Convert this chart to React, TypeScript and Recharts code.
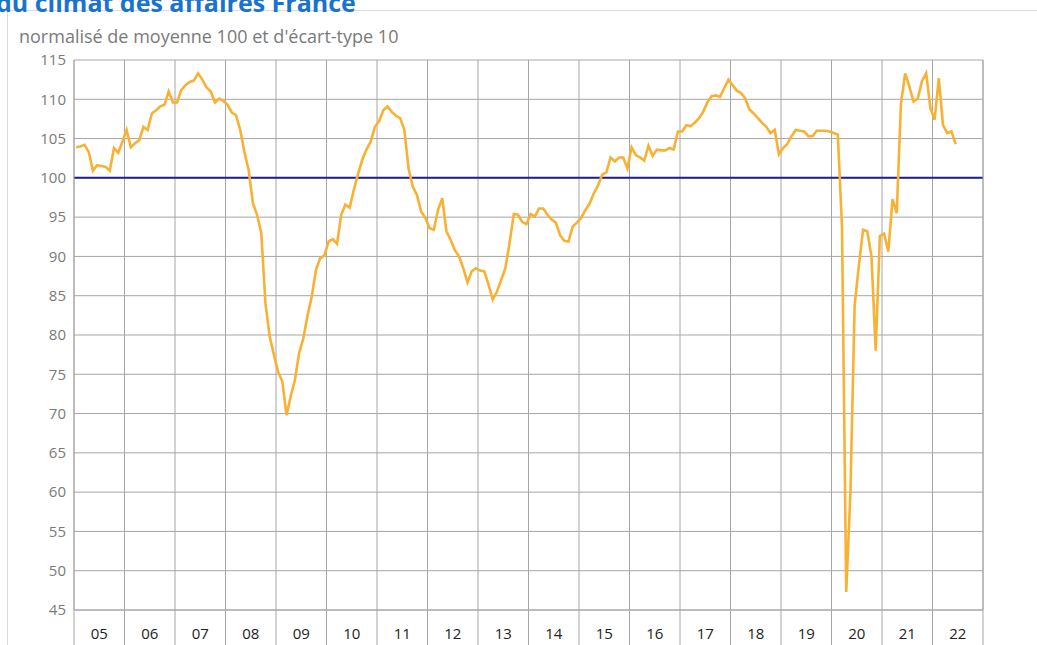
import React from 'react';
import { LineChart, Line, XAxis, YAxis, CartesianGrid, ReferenceLine } from 'recharts';

const yearLabels = ['05', '06', '07', '08', '09', '10', '11', '12', '13', '14', '15', '16', '17', '18', '19', '20', '21', '22'];

const v2005 = [103.9, 104.0, 104.2, 103.3, 100.9, 101.6, 101.5, 101.4, 100.9, 103.8, 103.2, 104.6];
const v2006 = [106.1, 103.9, 104.4, 104.8, 106.5, 106.1, 108.2, 108.6, 109.1, 109.3, 111.0, 109.6];
const v2007 = [109.6, 111.2, 111.8, 112.2, 112.4, 113.3, 112.5, 111.5, 111.0, 109.6, 110.1, 109.8];
const v2008 = [109.3, 108.3, 108.0, 106.1, 103.3, 101.0, 96.8, 95.3, 93.0, 84.0, 79.8, 77.5];
const v2009 = [75.3, 74.1, 69.8, 72.2, 74.3, 77.7, 79.6, 82.5, 84.9, 88.3, 89.8, 90.1];
const v2010 = [91.9, 92.2, 91.6, 95.3, 96.6, 96.2, 98.5, 100.5, 102.3, 103.6, 104.6, 106.5];
const v2011 = [107.2, 108.6, 109.1, 108.4, 107.9, 107.6, 106.1, 101.2, 98.9, 97.8, 95.7, 94.9];
const v2012 = [93.6, 93.4, 95.9, 97.4, 93.2, 92.1, 90.8, 90.0, 88.5, 86.7, 88.1, 88.5];
const v2013 = [88.2, 88.1, 86.4, 84.5, 85.5, 87.0, 88.5, 91.7, 95.4, 95.3, 94.4, 94.1];
const v2014 = [95.4, 95.1, 96.1, 96.1, 95.3, 94.7, 94.3, 92.7, 92.0, 91.9, 93.8, 94.3];
const v2015 = [94.9, 95.9, 96.7, 98.0, 99.0, 100.4, 100.7, 102.6, 102.1, 102.6, 102.6, 101.2];
const v2016 = [103.9, 102.9, 102.6, 102.2, 104.1, 102.8, 103.6, 103.5, 103.5, 103.8, 103.6, 105.9];
const v2017 = [105.9, 106.7, 106.6, 107.0, 107.6, 108.4, 109.6, 110.4, 110.5, 110.3, 111.4, 112.5];
const v2018 = [111.8, 111.1, 110.8, 110.1, 108.7, 108.2, 107.6, 107.0, 106.5, 105.7, 106.1, 103.0];
const v2019 = [103.8, 104.3, 105.3, 106.1, 106.0, 105.9, 105.3, 105.3, 106.0, 106.0, 106.0, 105.9];
const v2020 = [105.7, 105.5, 93.7, 47.3, 60.0, 83.8, 88.8, 93.4, 93.2, 90.0, 78.0, 92.6];
const v2021 = [92.9, 90.6, 97.3, 95.5, 109.4, 113.3, 111.6, 109.7, 110.1, 112.3, 113.3, 108.9];
const v2022 = [107.4, 112.7, 106.7, 105.7, 105.9, 104.3];

const years = [v2005, v2006, v2007, v2008, v2009, v2010, v2011, v2012, v2013, v2014, v2015, v2016, v2017, v2018, v2019, v2020, v2021, v2022];

const yTicks = [45, 50, 55, 60, 65, 70, 75, 80, 85, 90, 95, 100, 105, 110, 115];

const data = years.flatMap((vals, y) => vals.map((v, m) => ({ t: y * 12 + m + 0.5, v })));
const boundaryTicks = Array.from({ length: yearLabels.length + 1 }, (_, k) => k * 12);
const centerTicks = yearLabels.map((_, k) => k * 12 + 6);

const GRID = '#a6a6a6';
const FONT = '"Open Sans", sans-serif';

export default function App() {
  return (
    <div style={{ position: 'absolute', left: 0, top: 0, width: 1037, height: 645, overflow: 'hidden', background: '#fff', fontFamily: FONT }}>
      <div style={{ position: 'absolute', left: 7, top: 10, width: 1100, height: 700, border: '1px solid #dcdcdc', boxSizing: 'border-box' }} />
      <div style={{ position: 'absolute', left: -4, top: -10, fontSize: 25, lineHeight: '25px', fontWeight: 700, color: '#1a72d0', whiteSpace: 'nowrap' }}>
        du climat des affaires France
      </div>
      <div style={{ position: 'absolute', left: 19, top: 27, fontSize: 18, lineHeight: '18px', color: '#7a7a7a', whiteSpace: 'nowrap' }}>
        normalisé de moyenne 100 et d'écart-type 10
      </div>
      <div style={{ position: 'absolute', left: 0, top: 0 }}>
        <LineChart width={1037} height={700} data={data} margin={{ top: 60, right: 0, left: 24, bottom: 50 }}>
          <CartesianGrid xAxisId="g" yAxisId="l" stroke={GRID} strokeWidth={1} />
          <XAxis
            xAxisId="g"
            type="number"
            dataKey="t"
            domain={[0, 216]}
            ticks={boundaryTicks}
            interval={0}
            height={1}
            tickFormatter={() => ''}
            tick={{ fontSize: 1, fill: 'none' }}
            tickSize={35}
            tickLine={{ stroke: GRID }}
            axisLine={{ stroke: GRID }}
          />
          <XAxis
            xAxisId="lab"
            type="number"
            dataKey="t"
            domain={[0, 216]}
            ticks={centerTicks}
            interval={0}
            height={39}
            tickLine={false}
            axisLine={false}
            tickSize={0}
            tickMargin={17}
            tickFormatter={(t: number) => yearLabels[Math.floor(t / 12)]}
            tick={{ fill: '#222', fontSize: 15, fontFamily: FONT }}
          />
          <YAxis
            yAxisId="l"
            orientation="left"
            domain={[45, 115]}
            ticks={yTicks}
            interval={0}
            width={50}
            tickLine={false}
            tickSize={0}
            tickMargin={8}
            axisLine={{ stroke: GRID }}
            tick={{ fill: '#7a7a7a', fontSize: 15, fontFamily: FONT }}
          />
          <YAxis
            yAxisId="r"
            orientation="right"
            domain={[45, 115]}
            ticks={yTicks}
            interval={0}
            width={54}
            tickLine={false}
            tickSize={0}
            tickMargin={8}
            axisLine={{ stroke: GRID }}
            tick={{ fill: '#7a7a7a', fontSize: 15, fontFamily: FONT, textAnchor: 'start' }}
          />
          <ReferenceLine xAxisId="g" yAxisId="l" y={100} stroke="#1f1f8c" strokeWidth={2} />
          <Line
            xAxisId="g"
            yAxisId="l"
            type="linear"
            dataKey="v"
            stroke="#f8b133"
            strokeWidth={2.6}
            dot={false}
            activeDot={false}
            isAnimationActive={false}
          />
        </LineChart>
      </div>
    </div>
  );
}
